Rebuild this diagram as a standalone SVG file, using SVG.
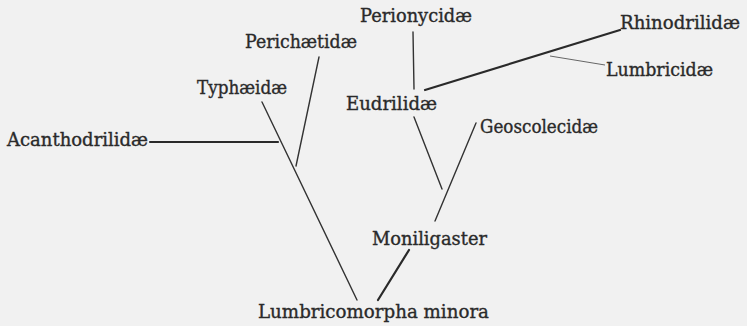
<svg xmlns="http://www.w3.org/2000/svg" width="747" height="326" viewBox="0 0 747 326">
<style>
.t{font-family:"DejaVu Serif","Liberation Serif",serif;font-size:18px;fill:#2a2a2a;stroke:#2a2a2a;stroke-width:0.35}
.l{stroke:#333;stroke-width:1.4;fill:none;stroke-linecap:round}
.k{stroke:#2a2a2a;stroke-width:2.2;fill:none;stroke-linecap:round}
.f{stroke:#666;stroke-width:1;fill:none}
</style>
<rect width="747" height="326" fill="#f1f1f1"/>
<g id="connectors">
<line class="k" x1="150" y1="142" x2="278" y2="142"/>
<line class="l" x1="262" y1="102" x2="357" y2="300"/>
<line class="l" x1="319" y1="57" x2="296" y2="166"/>
<line class="l" x1="413" y1="32" x2="414" y2="89"/>
<line class="k" x1="425" y1="90" x2="620" y2="30"/>
<line class="f" x1="550" y1="56" x2="605" y2="65"/>
<line class="l" x1="414" y1="117" x2="442" y2="189"/>
<line class="l" x1="476" y1="123" x2="435" y2="221"/>
<line class="k" x1="409" y1="250" x2="378" y2="300"/>
</g>
<g id="perionycidae"><text class="t" x="360" y="22" textLength="112" lengthAdjust="spacingAndGlyphs">Perionycidæ</text></g>
<g id="rhinodrilidae"><text class="t" x="620" y="29" textLength="120" lengthAdjust="spacingAndGlyphs">Rhinodrilidæ</text></g>
<g id="perichaetidae"><text class="t" x="245" y="48" textLength="112" lengthAdjust="spacingAndGlyphs">Perichætidæ</text></g>
<g id="lumbricidae"><text class="t" x="606" y="76" textLength="107" lengthAdjust="spacingAndGlyphs">Lumbricidæ</text></g>
<g id="typhaeidae"><text class="t" x="197" y="94" textLength="90" lengthAdjust="spacingAndGlyphs">Typhæidæ</text></g>
<g id="eudrilidae"><text class="t" x="346" y="110" textLength="91" lengthAdjust="spacingAndGlyphs">Eudrilidæ</text></g>
<g id="geoscolecidae"><text class="t" x="480" y="133" textLength="118" lengthAdjust="spacingAndGlyphs">Geoscolecidæ</text></g>
<g id="acanthodrilidae"><text class="t" x="7" y="146" textLength="141" lengthAdjust="spacingAndGlyphs">Acanthodrilidæ</text></g>
<g id="moniligaster"><text class="t" x="372" y="245" textLength="115" lengthAdjust="spacingAndGlyphs">Moniligaster</text></g>
<g id="lumbricomorpha"><text class="t" x="258" y="318" textLength="231" lengthAdjust="spacingAndGlyphs">Lumbricomorpha minora</text></g>
</svg>
